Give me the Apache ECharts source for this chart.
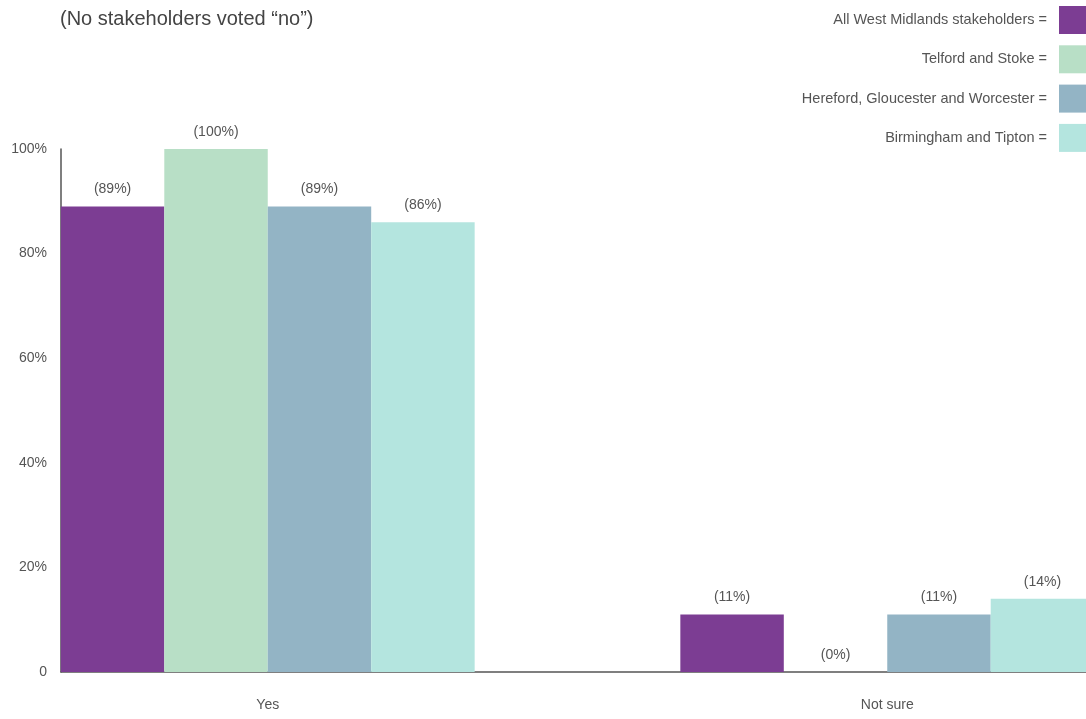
<!DOCTYPE html>
<html>
<head>
<meta charset="utf-8">
<script src="https://cdn.jsdelivr.net/npm/echarts@6/dist/echarts.min.js"></script>
<style>
  html, body { margin: 0; padding: 0; background: #fff; }
  #chart { width: 1086px; height: 719px; }
</style>
</head>
<body>
<div id="chart"></div>
<script>
// answers shown on the x axis
var categories = ["Yes", "Not sure"];
var seriesNames = [
  "All West Midlands stakeholders",
  "Telford and Stoke",
  "Hereford, Gloucester and Worcester",
  "Birmingham and Tipton"
];
var allWestMidlands = [89, 11];
var telfordStoke = [100, 0];
var herefordGlouWorc = [89, 11];
var birminghamTipton = [86, 14];
var yTicks = [0, 20, 40, 60, 80, 100];

var colors = ["#7c3d93", "#b8dfc6", "#93b4c5", "#b4e5df"];
var font = "'Helvetica Neue', 'Liberation Sans', Arial, sans-serif";
var txt = "#555";

var chart = echarts.init(document.getElementById("chart"));

function barSeries(name, data, color) {
  return {
    name: name,
    type: "bar",
    xAxisIndex: 0,
    yAxisIndex: 0,
    data: data,
    barGap: "0%",
    barCategoryGap: "33.2%",
    itemStyle: { color: color },
    label: {
      show: true,
      position: "top",
      distance: 10,
      formatter: "({c}%)",
      color: txt,
      fontSize: 14,
      fontFamily: font
    }
  };
}

var option = {
  animation: false,
  backgroundColor: "#fff",
  title: {
    text: "(No stakeholders voted \u201cno\u201d)",
    left: 60,
    top: 9,
    padding: 0,
    textStyle: { color: "#444", fontSize: 20, fontWeight: "normal", fontFamily: font }
  },
  legend: {
    data: seriesNames,
    orient: "vertical",
    right: 0,
    top: 6,
    padding: 0,
    align: "right",
    itemWidth: 27,
    itemHeight: 28,
    itemGap: 11.3,
    icon: "rect",
    selectedMode: false,
    formatter: function (name) {
      return name + " =";
    },
    textStyle: { color: txt, fontSize: 14.5, fontFamily: font, padding: [0, 7, 0, 0] }
  },
  grid: [
    // bars grid: wider than the page so the second group runs off the right edge
    { left: -42, right: -111, top: 149, bottom: 47, outerBoundsMode: "none" },
    // axis lines grid
    { left: 61, right: 0, top: 149, bottom: 47, outerBoundsMode: "none" }
  ],
  xAxis: [
    {
      type: "category",
      gridIndex: 0,
      data: categories,
      axisLine: { show: false },
      axisTick: { show: false },
      axisLabel: { color: txt, fontSize: 14, fontFamily: font, margin: 26 }
    },
    {
      type: "value",
      gridIndex: 1,
      min: 0,
      max: 1,
      axisLine: { show: true, lineStyle: { color: "#555", width: 1.5 } },
      axisTick: { show: false },
      axisLabel: { show: false },
      splitLine: { show: false }
    }
  ],
  yAxis: [
    {
      type: "value",
      gridIndex: 0,
      min: 0,
      max: 100,
      show: false
    },
    {
      type: "value",
      gridIndex: 1,
      min: 0,
      max: 100,
      interval: 20,
      axisLine: { show: true, lineStyle: { color: "#555", width: 1.5 } },
      axisTick: { show: false },
      splitLine: { show: false },
      axisLabel: {
        color: txt,
        fontSize: 14,
        fontFamily: font,
        margin: 14,
        formatter: function (v) {
          return yTicks.indexOf(v) > 0 ? v + "%" : "0";
        }
      }
    }
  ],
  series: [
    barSeries(seriesNames[0], allWestMidlands, colors[0]),
    barSeries(seriesNames[1], telfordStoke, colors[1]),
    barSeries(seriesNames[2], herefordGlouWorc, colors[2]),
    barSeries(seriesNames[3], birminghamTipton, colors[3])
  ]
};

chart.setOption(option);
</script>
</body>
</html>
